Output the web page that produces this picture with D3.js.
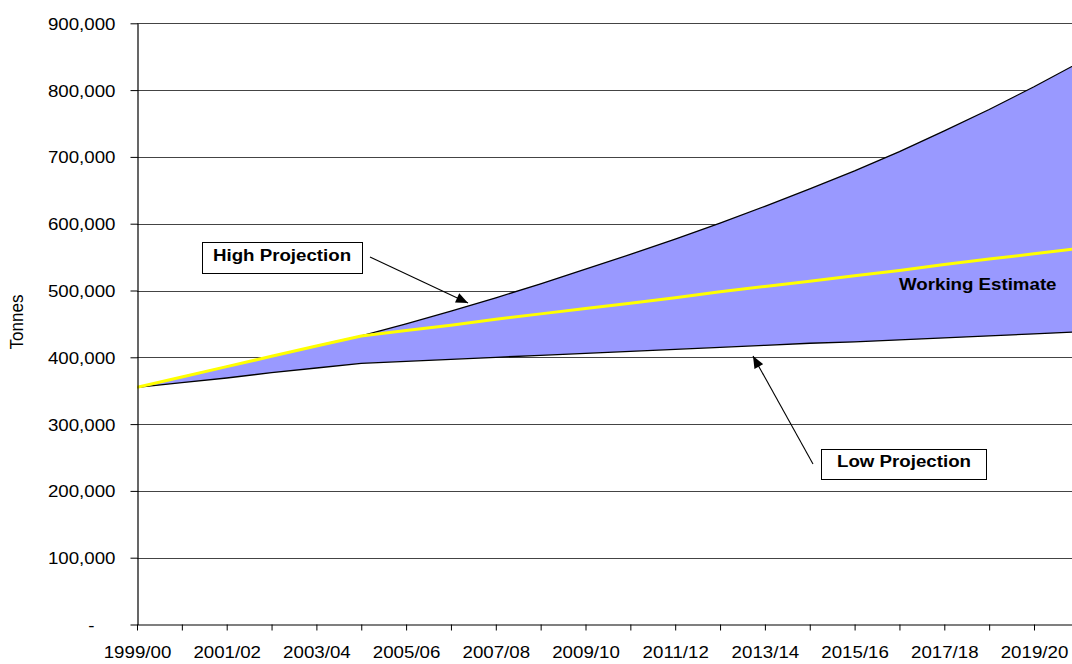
<!DOCTYPE html>
<html>
<head>
<meta charset="utf-8">
<script src="https://cdn.jsdelivr.net/npm/d3@7/dist/d3.min.js"></script>
<style>
  html, body { margin: 0; padding: 0; background: #fff; }
  svg { display: block; font-family: "Liberation Sans", Arial, Helvetica, sans-serif; }
</style>
</head>
<body>
<svg id="chart" width="1072" height="664"></svg>
<script>
// ---- data ----
const categories = ['1999/00','2000/01','2001/02','2002/03','2003/04','2004/05','2005/06','2006/07',
  '2007/08','2008/09','2009/10','2010/11','2011/12','2012/13','2013/14','2014/15','2015/16',
  '2016/17','2017/18','2018/19','2019/20','2020/21'];
const working = [355000,370500,386000,401500,417000,432000,440000,448000,457000,465000,473000,
  481000,489000,498000,506000,514000,522000,530000,539000,547000,555000,563000];
const high = [355000,370500,386000,401500,417000,432000,450000,469000,489000,510000,532000,
  554000,577000,601000,626000,652000,679000,708000,739000,771000,805000,841000];
const low = [355000,362000,369000,377000,384000,391000,394000,397000,400000,403000,406000,
  409000,412000,415000,418000,421000,423000,426000,429000,432000,435000,438000];
const yTicks = [0,100000,200000,300000,400000,500000,600000,700000,800000,900000];
const axisTitle = 'Tonnes';
const labels = { high: 'High Projection', low: 'Low Projection', working: 'Working Estimate' };

// ---- layout ----
const W = 1072, H = 664;
const x0 = 137, step = 44.85;
const svg = d3.select('#chart');
const FS = 17, SX = 1.1;

const x = d3.scaleLinear().domain([0, categories.length - 1])
  .range([x0, x0 + step * (categories.length - 1)]);
const y = d3.scaleLinear().domain([0, 900000]).range([624.5, 23.3]);

const defs = svg.append('defs');
defs.append('clipPath').attr('id', 'plotclip')
  .append('rect').attr('x', x0).attr('y', 0).attr('width', W - x0).attr('height', H);
defs.append('marker').attr('id', 'arrow')
  .attr('markerUnits', 'userSpaceOnUse')
  .attr('viewBox', '0 0 12 10').attr('refX', 12).attr('refY', 5)
  .attr('markerWidth', 13).attr('markerHeight', 10).attr('orient', 'auto')
  .append('path').attr('d', 'M0,0 L12,5 L0,10 Z').attr('fill', '#000');

// gridlines
svg.append('g').selectAll('line').data(yTicks.filter(d => d > 0)).join('line')
  .attr('x1', x0).attr('x2', W)
  .attr('y1', d => Math.round(y(d)) + 0.5).attr('y2', d => Math.round(y(d)) + 0.5)
  .attr('stroke', '#444').attr('stroke-width', 1);

const plot = svg.append('g').attr('clip-path', 'url(#plotclip)');
const idx = d3.range(categories.length);

plot.append('path').datum(idx)
  .attr('d', d3.area().x(i => x(i)).y0(i => y(low[i])).y1(i => y(high[i])))
  .attr('fill', '#9999FF');

const lineOf = arr => d3.line().x(i => x(i)).y(i => y(arr[i]));
plot.append('path').datum(idx).attr('d', lineOf(high))
  .attr('fill', 'none').attr('stroke', '#000').attr('stroke-width', 1.3);
plot.append('path').datum(idx).attr('d', lineOf(low))
  .attr('fill', 'none').attr('stroke', '#000').attr('stroke-width', 1.3);
plot.append('path').datum(idx).attr('d', lineOf(working))
  .attr('fill', 'none').attr('stroke', '#FFFF00').attr('stroke-width', 3);

// y axis
const yAxis = svg.append('g').attr('transform', `translate(${x0 + 0.5},0)`)
  .call(d3.axisLeft(y).tickValues(yTicks).tickSize(7).tickSizeOuter(0)
    .tickFormat(d => d === 0 ? '-' : d3.format(',')(d)));
yAxis.select('.domain').attr('stroke', '#000').attr('stroke-width', 1.2);
yAxis.selectAll('.tick line').attr('stroke', '#000');
yAxis.selectAll('.tick text')
  .attr('x', 0).attr('dy', '0.35em')
  .attr('font-size', FS).attr('fill', '#000')
  .attr('transform', d => d === 0 ? `translate(-43,0) scale(${SX},1)` : `translate(-22,0) scale(${SX},1)`);

// x axis
const xAxis = svg.append('g').attr('transform', `translate(0,${y(0)})`)
  .call(d3.axisBottom(x).tickValues(d3.range(0, categories.length - 1)).tickSize(6).tickSizeOuter(0)
    .tickFormat(i => i % 2 === 0 ? categories[i] : ''));
xAxis.select('.domain').attr('stroke', '#000').attr('stroke-width', 1.2);
xAxis.selectAll('.tick line').attr('stroke', '#000');
xAxis.selectAll('.tick text')
  .attr('y', 0).attr('dy', 0)
  .attr('font-size', FS).attr('fill', '#000')
  .attr('transform', `translate(0,33) scale(${SX},1)`);

// axis title
svg.append('text').attr('transform', `translate(23,322) scale(${SX},1) rotate(-90)`)
  .attr('text-anchor', 'middle').attr('font-size', FS).text(axisTitle);

// annotations
function stretchedText(tx, ty, txt, anchor, bold) {
  return svg.append('text').attr('transform', `translate(${tx},${ty}) scale(${SX},1)`)
    .attr('text-anchor', anchor).attr('font-size', FS)
    .attr('font-weight', bold ? 'bold' : 'normal').attr('fill', '#000').text(txt);
}

// High projection box + arrow
svg.append('line').attr('x1', 370).attr('y1', 257).attr('x2', 468).attr('y2', 303)
  .attr('stroke', '#000').attr('stroke-width', 1.1).attr('marker-end', 'url(#arrow)');
svg.append('rect').attr('x', 202.5).attr('y', 242.5).attr('width', 160).attr('height', 31)
  .attr('fill', '#fff').attr('stroke', '#000').attr('stroke-width', 1);
stretchedText(282, 261, labels.high, 'middle', true);

// Low projection box + arrow
svg.append('line').attr('x1', 813).attr('y1', 464).attr('x2', 753).attr('y2', 356)
  .attr('stroke', '#000').attr('stroke-width', 1.1).attr('marker-end', 'url(#arrow)');
svg.append('rect').attr('x', 821.5).attr('y', 449.5).attr('width', 165).attr('height', 30)
  .attr('fill', '#fff').attr('stroke', '#000').attr('stroke-width', 1);
stretchedText(904, 467, labels.low, 'middle', true);

// Working estimate label
stretchedText(899, 290, labels.working, 'start', true);
</script>
</body>
</html>
